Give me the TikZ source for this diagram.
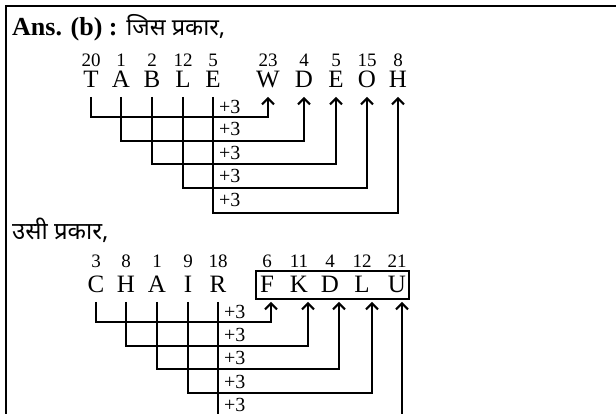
\documentclass[tikz,border=0pt]{standalone}
\usepackage{fontspec}
\setmainfont{Liberation Serif}
\newfontfamily\hindi[Script=Devanagari]{Noto Sans}
\usetikzlibrary{calc, arrows.meta}
\tikzset{
    link/.style={line width=2pt},
    tip/.style={line width=2pt,-{Straight Barb[length=6pt,width=12pt,line width=2pt]}},
    letter/.style={inner sep=0pt,anchor=base,font=\fontsize{25}{25}\selectfont},
    num/.style={inner sep=0pt,anchor=base,font=\fontsize{19}{19}\selectfont},
    plus/.style={inner sep=0pt,anchor=west,font=\fontsize{20}{20}\selectfont}
}

\begin{document}
\begin{tikzpicture}[x=1pt,y=1pt]
                \useasboundingbox (0,0) rectangle (616,414);
                \draw[line width=2.5pt] (6,0)--(6,408)--(616,408);
                \node[anchor=base west,inner sep=0pt,font=\fontsize{26}{26}\selectfont] (ans) at (12,378) {\textbf{Ans. (b) :} {\hindi\fontsize{23.5}{23.5}\selectfont जिस प्रकार,}};
                \foreach \ch/\n/\x [count=\i] in {T/20/91,A/1/121,B/2/152,L/12/183,E/5/213}{
                    \node[letter] (t\i) at (\x,326) {\ch};
                    \node[num] (tn\i) at (\x,347) {\n};
                }
                \foreach \ch/\n/\x [count=\i] in {W/23/268,D/4/304,E/5/336,O/15/367,H/8/398}{
                    \node[letter] (w\i) at (\x,326) {\ch};
                    \node[num] (wn\i) at (\x,347) {\n};
                }
                \foreach \i/\lev/\py in {1/297/307,2/273/285,3/250/261,4/226/238,5/201/214}{
                    \draw[tip] (t\i |- 0,317)--(t\i |- 0,\lev)--(w\i |- 0,\lev)--(w\i |- 0,317);
                    \node[plus] (tp\i) at (219,\py) {+3};
                }
                \node[anchor=base west,inner sep=0pt,font=\hindi\fontsize{24}{24}\selectfont] (same) at (12,174) {उसी प्रकार,};
                \foreach \ch/\n/\x [count=\i] in {C/3/96,H/8/126,A/1/157,I/9/188,R/18/218}{
                    \node[letter] (c\i) at (\x,121) {\ch};
                    \node[num] (cn\i) at (\x,146) {\n};
                }
                \foreach \ch/\n/\x/\a [count=\i] in {F/6/267/271,K/11/299/308,D/4/330/339,L/12/362/372,U/21/397/402}{
                    \node[letter] (k\i) at (\x,121) {\ch};
                    \node[num] (kn\i) at (\x,146) {\n};
                    \coordinate (a\i) at (\a,112);
                }
                \draw[link] (256,143) rectangle (409,115);
                \foreach \i/\lev/\py in {1/92/102,2/68/79,3/45/56,4/21/32,5/-4/9}{
                    \draw[tip] (c\i |- 0,112)--(c\i |- 0,\lev)--(a\i |- 0,\lev)--(a\i);
                    \node[plus] (cp\i) at (224,\py) {+3};
                }
            \end{tikzpicture}
\end{document}
